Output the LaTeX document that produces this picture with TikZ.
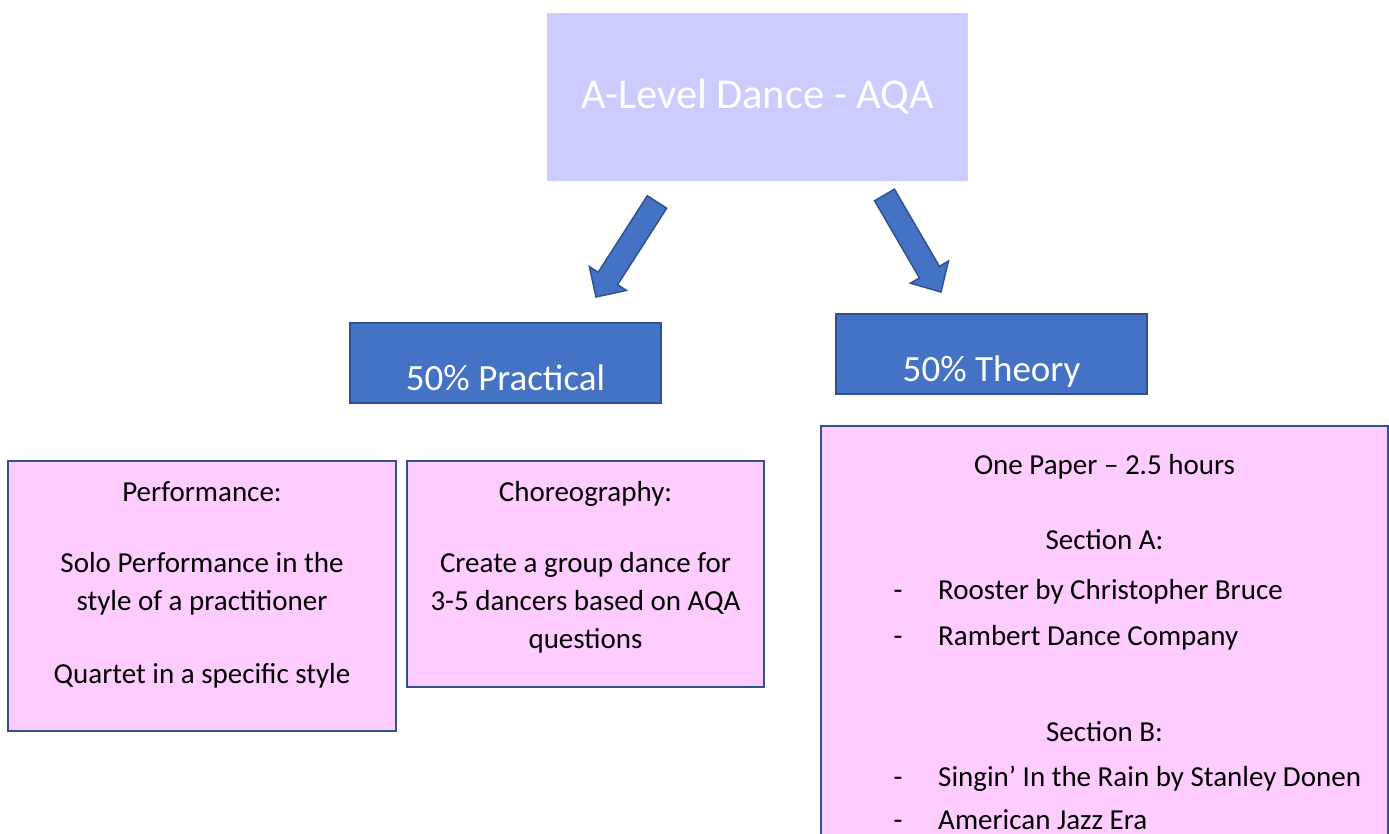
\documentclass[tikz,border=0pt]{standalone}
\usepackage{fontspec}
\setmainfont{Carlito}
\usetikzlibrary{calc}
\definecolor{titlefill}{HTML}{CCCCFF}
\definecolor{blueA}{HTML}{4472C4}
\definecolor{blueB}{HTML}{2F528F}
\definecolor{pinkfill}{HTML}{FFCCFF}
\newcommand\blockarr[5]{%
  \path ($(#2)!#5!(#1)$) coordinate (hb);
  \filldraw[arrowstyle] ($(#1)!#3!90:(#2)$) -- ($(hb)!#3!90:(#2)$) -- ($(hb)!#4!90:(#2)$) -- (#2)
    -- ($(hb)!#4!-90:(#2)$) -- ($(hb)!#3!-90:(#2)$) -- ($(#1)!#3!-90:(#2)$) -- cycle;}
\tikzset{
  titlebox/.style={rectangle, fill=titlefill, draw=none, inner sep=0pt},
  bluebox/.style={rectangle, fill=blueA, draw=blueB, line width=1.5pt, inner sep=0pt},
  pinkbox/.style={rectangle, fill=pinkfill, draw=blueB, line width=1.8pt, inner sep=0pt},
  arrowstyle/.style={fill=blueA, draw=blueB, line width=1.5pt, line join=miter},
  body/.style={anchor=base, inner sep=0pt, font=\fontsize{29}{35}\selectfont, text=black},
  bodyl/.style={body, anchor=base west},
  head/.style={anchor=base, inner sep=0pt, font=\fontsize{37}{44}\selectfont, text=white},
  ttl/.style={anchor=base, inner sep=0pt, font=\fontsize{42.5}{50}\selectfont, text=white}
}
\begin{document}
\begin{tikzpicture}[x=1pt,y=-1pt]
\clip (0,0) rectangle (1389,834);
\fill[white] (0,0) rectangle (1389,834);
% title
\node[titlebox, minimum width=421pt, minimum height=168pt] (title) at (757.5,97) {};
\node[ttl] (titletxt) at (757.5,109) {A-Level Dance - AQA};
% heading boxes
\node[bluebox, minimum width=311pt, minimum height=80pt] (prac) at (505.5,363) {};
\node[head] (practxt) at (505.5,390) {50\% Practical};
\node[bluebox, minimum width=311pt, minimum height=80pt] (theo) at (991.5,354) {};
\node[head] (theotxt) at (991.5,381) {50\% Theory};
% arrows
\coordinate (a1s) at (657,202);
\coordinate (a1e) at (596,297);
\coordinate (a2s) at (884.5,195);
\coordinate (a2e) at (941,292);
\blockarr{a1s}{a1e}{11.5pt}{22pt}{22pt}
\blockarr{a2s}{a2e}{11.5pt}{22pt}{23pt}
% performance box
\node[pinkbox, minimum width=388pt, minimum height=270pt] (perf) at (202,596) {};
\node[body] at (202,501) {Performance:};
\node[body] at (202,572) {Solo Performance in the};
\node[body] at (202,610) {style of a practitioner};
\node[body] at (202,683) {Quartet in a specific style};
% choreography box
\node[pinkbox, minimum width=357pt, minimum height=226pt] (chor) at (585.5,574) {};
\node[body] at (585.5,501) {Choreography:};
\node[body] at (585.5,572) {Create a group dance for};
\node[body] at (585.5,610) {3-5 dancers based on AQA};
\node[body] at (585.5,648) {questions};
% theory content box
\node[pinkbox, minimum width=567pt, minimum height=440pt] (paper) at (1104.5,646) {};
\node[body] at (1104.5,474) {One Paper – 2.5 hours};
\node[body] at (1104.5,549) {Section A:};
\node[body] at (898,599) {-};
\node[bodyl] at (938,599) {Rooster by Christopher Bruce};
\node[body] at (898,645) {-};
\node[bodyl] at (938,645) {Rambert Dance Company};
\node[body] at (1104.5,741) {Section B:};
\node[body] at (898,786) {-};
\node[bodyl] at (938,786) {Singin’ In the Rain by Stanley Donen};
\node[body] at (898,829) {-};
\node[bodyl] at (938,829) {American Jazz Era};
\end{tikzpicture}
\end{document}
